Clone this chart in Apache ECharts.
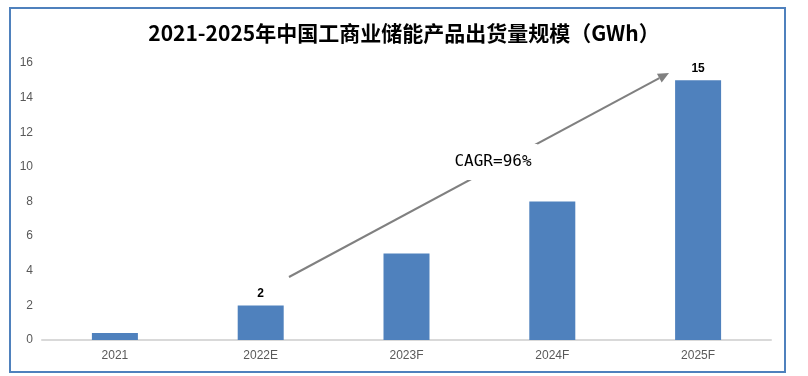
<!DOCTYPE html>
<html>
<head>
<meta charset="utf-8">
<script src="https://cdn.jsdelivr.net/npm/echarts@6/dist/echarts.min.js"></script>
<style>
  html, body { margin: 0; padding: 0; background: #fff; }
  #main { width: 808px; height: 376px; }
</style>
</head>
<body>
<div id="main"></div>
<script>
const titleText = '2021-2025年中国工商业储能产品出货量规模（GWh）'
const years = ['2021', '2022E', '2023F', '2024F', '2025F']
const shipments = [0.4, 2, 5, 8, 15]
const labelled = [false, true, false, false, true] // only some bars carry a value label
const cagrText = 'CAGR=96%'

const chart = echarts.init(document.getElementById('main'))

// arrow annotation (pixel positions of the trend arrow)
const a0 = [289, 277]
const a1 = [669, 73]
const ang = Math.atan2(a1[1] - a0[1], a1[0] - a0[0])
const headLen = 11
const headW = 5
const base = [a1[0] - headLen * Math.cos(ang), a1[1] - headLen * Math.sin(ang)]
const head = [
  a1,
  [base[0] + headW * Math.sin(ang), base[1] - headW * Math.cos(ang)],
  [base[0] - headW * Math.sin(ang), base[1] + headW * Math.cos(ang)]
]

const option = {
  animation: false,
  title: {
    text: titleText,
    left: 'center',
    top: 18,
    textStyle: {
      fontFamily: 'Noto Sans CJK SC',
      fontSize: 21,
      fontWeight: 'bold',
      color: '#000'
    }
  },
  grid: {
    left: 42,
    right: 37,
    top: 63,
    bottom: 36,
    containLabel: false
  },
  xAxis: {
    type: 'category',
    data: years,
    axisLine: { show: true, lineStyle: { color: '#d9d9d9', width: 2 } },
    axisTick: { show: false },
    axisLabel: {
      color: '#595959',
      fontSize: 12,
      fontFamily: 'Liberation Sans',
      margin: 10
    }
  },
  yAxis: {
    type: 'value',
    min: 0,
    max: 16,
    interval: 2,
    axisLine: { show: false },
    axisTick: { show: false },
    splitLine: { show: false },
    axisLabel: {
      color: '#595959',
      fontSize: 12,
      fontFamily: 'Liberation Sans',
      margin: 9
    }
  },
  series: [{
    type: 'bar',
    barWidth: 46,
    itemStyle: { color: '#4f81bd' },
    data: shipments.map((v, i) => ({
      value: v,
      label: {
        show: labelled[i],
        position: 'top',
        distance: 6,
        color: '#000',
        fontSize: 12,
        fontWeight: 'bold',
        fontFamily: 'Liberation Sans'
      }
    }))
  }],
  graphic: [
    {
      type: 'rect',
      z: 100,
      shape: { x: 10, y: 8, width: 775, height: 364 },
      style: { fill: 'none', stroke: '#4f81bd', lineWidth: 2 }
    },
    {
      type: 'line',
      z: 100,
      shape: { x1: a0[0], y1: a0[1], x2: base[0], y2: base[1] },
      style: { stroke: '#808080', lineWidth: 2 }
    },
    {
      type: 'polygon',
      z: 100,
      shape: { points: head },
      style: { fill: '#808080' }
    },
    {
      type: 'text',
      z: 101,
      x: 493,
      y: 162,
      style: {
        text: cagrText,
        font: '16px "DejaVu Sans Mono"',
        fill: '#000',
        align: 'center',
        verticalAlign: 'middle',
        backgroundColor: '#fff',
        padding: [10, 6]
      }
    }
  ]
}

chart.setOption(option)
</script>
</body>
</html>
